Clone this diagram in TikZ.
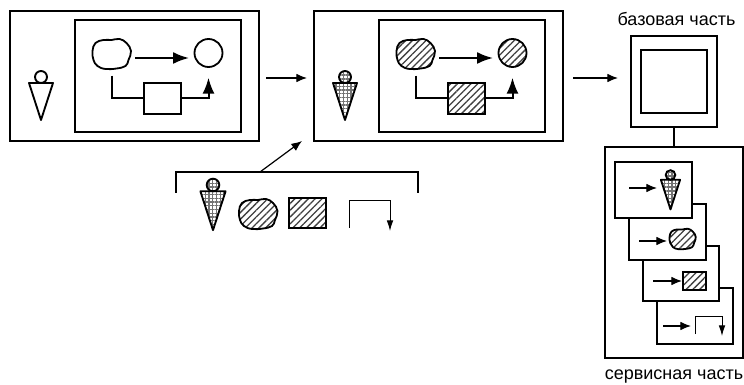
\documentclass[tikz,border=0pt]{standalone}
\usepackage{fontspec}
\setmainfont{Liberation Sans}
\usetikzlibrary{arrows.meta,patterns,patterns.meta}
\tikzset{
  sized/.style 2 args={minimum width=#1*0.75pt, minimum height=#2*0.75pt},
  boxAll/.style={draw, line width=1.5pt, inner sep=0pt, outer sep=0pt, fill=white},
  boxThin/.style={draw, line width=1.35pt, inner sep=0pt, outer sep=0pt},
  hatchA/.style={pattern={Lines[angle=45, distance=3.6pt, line width=1pt]}, pattern color=black!75},
  dotsA/.style={pattern={Hatch[angle=0, distance=2.8pt, line width=1pt]}, pattern color=black!55},
  ghost/.style={inner sep=0pt, outer sep=0pt},
  linkA/.style={line width=1.5pt},
  arrowA/.style={line width=1.5pt, -{Latex[length=12pt, width=9pt]}},
  arrowB/.style={line width=0.9pt, -{Latex[length=8pt, width=6.5pt]}},
  arrowC/.style={line width=0.75pt, -{Latex[length=8pt, width=5pt]}},
  label/.style={font=\fontsize{13.5}{16}\selectfont},
  pics/person/.style={code={
    \path[pic actions, draw, line width=1.4pt] (0,0) circle (6);
    \path[pic actions, draw, line width=1.4pt, line join=round] (-12,6) -- (12,6) -- (0,43) -- cycle;
  }},
  pics/blob/.style={code={
    \node[ghost, sized={38}{30}] (-n) {};
    \path[pic actions, draw, line width=1.35pt] plot[smooth cycle, tension=0.7] coordinates
      {(-19,-3) (-16,-11) (-8,-14) (0,-14) (8,-15) (15,-11) (19.5,-3) (17,6) (14,12) (5,14.5) (-6,15) (-14,12) (-18,6)};
  }}
}

\begin{document}
\begin{tikzpicture}[x=0.75pt, y=-0.75pt]
  \useasboundingbox (0,0) rectangle (744,385);

  \node[boxAll, sized={249}{130}] (outerA) at (134.5,76) {};
  \node[boxAll, sized={166}{112}] (innerA) at (158,76) {};
  \pic at (41,77) {person};
  \pic (blobA) at (111.5,54) {blob};
  \node[boxThin, circle, minimum size=28*0.75pt] (circA) at (208.5,53) {};
  \node[boxThin, sized={37}{31}] (rectA) at (162.5,98.5) {};
  \coordinate (fromA) at (135,58);
  \coordinate (toA) at (189,58);
  \draw[arrowA] (fromA) -- (toA);
  \draw[linkA, shorten <=5pt] (blobA-n.south) |- (rectA.west);
  \draw[arrowA, shorten >=8pt] (rectA.east) -| (circA.south);

  \node[boxAll, sized={249}{130}] (outerB) at (438.5,76) {};
  \node[boxAll, sized={166}{112}] (innerB) at (462,76) {};
  \pic[dotsA] at (345,77) {person};
  \pic[hatchA] (blobB) at (415.5,54) {blob};
  \node[boxThin, circle, minimum size=28*0.75pt, hatchA] (circB) at (512.5,53) {};
  \node[boxThin, sized={37}{31}, hatchA] (rectB) at (466.5,98.5) {};
  \coordinate (fromB) at (439,58);
  \coordinate (toB) at (493,58);
  \draw[arrowA] (fromB) -- (toB);
  \draw[linkA, shorten <=5pt] (blobB-n.south) |- (rectB.west);
  \draw[arrowA, shorten >=8pt] (rectB.east) -| (circB.south);

  \coordinate (gapA) at (266,78);
  \coordinate (gapB) at (307,78);
  \coordinate (gapC) at (573,78);
  \coordinate (gapD) at (618,78);
  \draw[arrowB] (gapA) -- (gapB);
  \draw[arrowB] (gapC) -- (gapD);

  \node[label] (baseText) at (676.5,19) {базовая часть};
  \node[boxAll, sized={86}{91}] (baseOuter) at (674,81.5) {};
  \node[boxAll, sized={66}{63}] (baseInner) at (674,81.5) {};
  \node[boxThin, sized={138}{211}] (service) at (674,252.5) {};
  \draw[line width=0.8pt] (baseOuter.south) -- (service.north);
  \node[label] (serviceText) at (674,377) {сервисная часть};

  \node[boxAll, sized={76}{56}] (cardD) at (695,316) {};
  \node[boxAll, sized={76}{55}] (cardC) at (681,273.5) {};
  \node[boxAll, sized={77}{56}] (cardB) at (667.5,232) {};
  \node[boxAll, sized={77}{56}] (cardA) at (653.5,190) {};

  \coordinate (cardAfrom) at (629,188);
  \coordinate (cardAto) at (657,188);
  \draw[arrowB] (cardAfrom) -- (cardAto);
  \pic[dotsA, scale=0.8] at (670.5,175) {person};

  \coordinate (cardBfrom) at (639,241);
  \coordinate (cardBto) at (667,241);
  \draw[arrowB] (cardBfrom) -- (cardBto);
  \pic[hatchA, scale=0.68] (blobC) at (682.5,239) {blob};

  \coordinate (cardCfrom) at (653,281);
  \coordinate (cardCto) at (682,281);
  \draw[arrowB] (cardCfrom) -- (cardCto);
  \node[boxThin, sized={23}{18}, hatchA] (rectC) at (694.5,281) {};

  \coordinate (cardDfrom) at (663,326);
  \coordinate (cardDto) at (691,326);
  \draw[arrowB] (cardDfrom) -- (cardDto);
  \coordinate (stepA) at (695,334);
  \coordinate (stepB) at (722,316);
  \coordinate (stepC) at (722,336);
  \draw[arrowC] (stepA) |- (stepB) -- (stepC);

  \coordinate (brkA) at (176,193);
  \coordinate (brkB) at (176,172);
  \coordinate (brkC) at (418,172);
  \coordinate (brkD) at (418,193);
  \coordinate (brkMid) at (260,172);
  \coordinate (brkTo) at (302,141);
  \draw[line width=1pt] (brkA) -- (brkB) -- (brkC) -- (brkD);
  \draw[arrowB] (brkMid) -- (brkTo);

  \pic[dotsA, scale=1.05] at (213,185) {person};
  \pic[hatchA] (blobD) at (258,214) {blob};
  \node[boxThin, sized={37}{30}, hatchA] (rectD) at (307.5,213) {};
  \coordinate (stepD) at (349,228);
  \coordinate (stepE) at (390,201);
  \coordinate (stepF) at (390,231);
  \draw[arrowC] (stepD) |- (stepE) -- (stepF);
\end{tikzpicture}
\end{document}
